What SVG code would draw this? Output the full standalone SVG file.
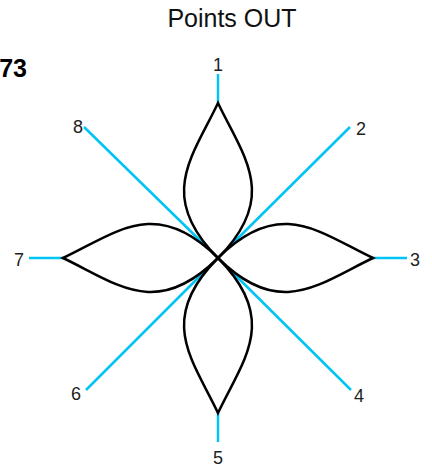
<svg xmlns="http://www.w3.org/2000/svg" width="432" height="468" viewBox="0 0 432 468">
<style>
.lbl{font-family:"Liberation Sans",Arial,sans-serif;font-size:18px;fill:#222;text-anchor:middle}
.ray{stroke:#00c4f5;stroke-width:2.5;fill:none}
.pf{fill:#fff;stroke:none}
.ps{fill:none;stroke:#000;stroke-width:2.5;stroke-linejoin:miter}
</style>
<defs>
<path id="petal" d="M0,0 C-62,-62 -25,-102 0,-155 C25,-102 62,-62 0,0 Z"/>
</defs>
<rect width="432" height="468" fill="#fff"/>
<text x="232" y="27" style="font-family:'Liberation Sans',Arial,sans-serif;font-size:25px;fill:#111;text-anchor:middle">Points OUT</text>
<text x="27" y="77" style="font-family:'Liberation Sans',Arial,sans-serif;font-size:25px;font-weight:bold;fill:#000;text-anchor:end">73</text>
<g id="connectors" transform="translate(218,258)">
<line class="ray" x1="0" y1="0" x2="0" y2="-184"/>
<line class="ray" x1="0" y1="0" x2="132" y2="-131"/>
<line class="ray" x1="0" y1="0" x2="189" y2="0"/>
<line class="ray" x1="0" y1="0" x2="133" y2="132"/>
<line class="ray" x1="0" y1="0" x2="0" y2="184"/>
<line class="ray" x1="0" y1="0" x2="-132" y2="132"/>
<line class="ray" x1="0" y1="0" x2="-189" y2="0"/>
<line class="ray" x1="0" y1="0" x2="-134" y2="-131"/>
</g>
<g id="petals" transform="translate(218,258)">
<use href="#petal" class="pf"/>
<use href="#petal" class="pf" transform="rotate(90)"/>
<use href="#petal" class="pf" transform="rotate(180)"/>
<use href="#petal" class="pf" transform="rotate(270)"/>
<use href="#petal" class="ps"/>
<use href="#petal" class="ps" transform="rotate(90)"/>
<use href="#petal" class="ps" transform="rotate(180)"/>
<use href="#petal" class="ps" transform="rotate(270)"/>
</g>
<g id="node1"><text class="lbl" x="218" y="71">1</text></g>
<g id="node2"><text class="lbl" x="361" y="135">2</text></g>
<g id="node3"><text class="lbl" x="415" y="266">3</text></g>
<g id="node4"><text class="lbl" x="359" y="402">4</text></g>
<g id="node5"><text class="lbl" x="218" y="464">5</text></g>
<g id="node6"><text class="lbl" x="76" y="400">6</text></g>
<g id="node7"><text class="lbl" x="19" y="266">7</text></g>
<g id="node8"><text class="lbl" x="78" y="133">8</text></g>
</svg>
